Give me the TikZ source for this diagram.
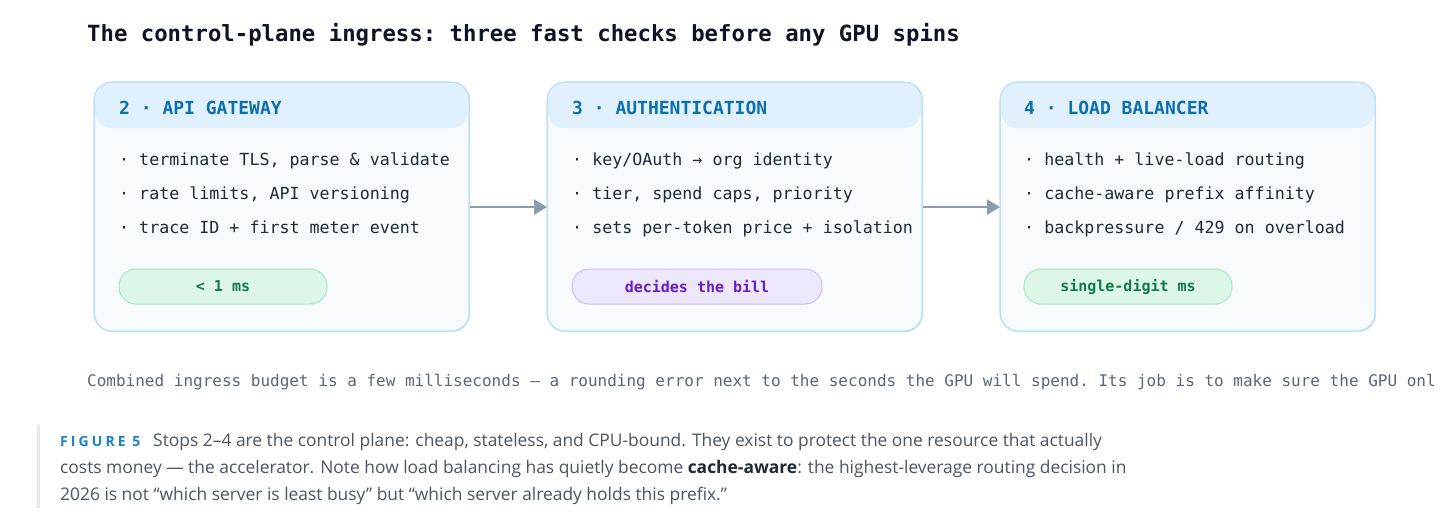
\documentclass[tikz,border=0pt]{standalone}
\usepackage{fontspec}
\setmonofont{DejaVu Sans Mono}
\setsansfont{Open Sans}
\usetikzlibrary{arrows.meta}
\definecolor{boxborder}{HTML}{BEE1F3}
\definecolor{boxfill}{HTML}{F8FBFE}
\definecolor{headfill}{HTML}{E0F0FC}
\definecolor{headtext}{HTML}{0E6FAE}
\definecolor{bodytext}{HTML}{1F2937}
\definecolor{titletext}{HTML}{0F1424}
\definecolor{arrowc}{HTML}{8C9BAE}
\definecolor{greenfill}{HTML}{DCF7E7}
\definecolor{greenborder}{HTML}{A8E4C2}
\definecolor{greentext}{HTML}{13784A}
\definecolor{purplefill}{HTML}{EDE7FC}
\definecolor{purpleborder}{HTML}{CDBDF2}
\definecolor{purpletext}{HTML}{6A1CC7}
\definecolor{notetext}{HTML}{5B6678}
\definecolor{captext}{HTML}{4B5563}
\definecolor{capbold}{HTML}{1F2937}
\definecolor{figblue}{HTML}{1C82C8}
\definecolor{barc}{HTML}{E5E7EB}
\tikzset{
  stagebox/.style={draw=boxborder, line width=1.2pt, fill=boxfill, rounded corners=18pt,
    minimum width=375pt, minimum height=249pt, inner sep=0pt},
  headband/.style={fill=headfill, rounded corners=16pt},
  headlabel/.style={anchor=base west, inner sep=0pt, font=\ttfamily\bfseries\fontsize{18}{20}\selectfont, text=headtext},
  bullet/.style={anchor=base west, inner sep=0pt, font=\ttfamily\fontsize{16.65}{20}\selectfont, text=bodytext},
  pill/.style={rounded corners=17pt, line width=1pt, minimum height=35pt, inner sep=0pt,
    font=\ttfamily\bfseries\fontsize{15}{18}\selectfont},
  greenpill/.style={pill, draw=greenborder, fill=greenfill, text=greentext, minimum width=208pt},
  purplepill/.style={pill, draw=purpleborder, fill=purplefill, text=purpletext, minimum width=250pt},
  flow/.style={draw=arrowc, line width=2.6pt, -{Triangle[length=13pt,width=15pt]}},
  captionline/.style={anchor=base west, inner sep=0pt, font=\sffamily\fontsize{17.4}{20}\selectfont, text=captext},
}
\begin{document}
\begin{tikzpicture}[x=1pt,y=-1pt]
\useasboundingbox (0,0) rectangle (1456,515);
\fill[white] (0,0) rectangle (1456,515);

% title
\node[anchor=base west, inner sep=0pt, font=\ttfamily\bfseries\fontsize{22.3}{26}\selectfont, text=titletext]
  (title) at (87,41) {The control-plane ingress: three fast checks before any GPU spins};

% boxes
\foreach \nm/\x in {gw/94, auth/547, lb/1000}{
  \node[stagebox, anchor=north west] (\nm) at (\x,82) {};
  \fill[headband] (\x+1,83) rectangle (\x+374,128);
  \draw[draw=boxborder, line width=1.2pt, rounded corners=18pt] (\x,82) rectangle (\x+375,331);
}

% box 1
\node[headlabel] (gwh) at (119,114) {2 · API GATEWAY};
\node[bullet] (gw1) at (119,165) {· terminate TLS, parse \& validate};
\node[bullet] (gw2) at (119,199) {· rate limits, API versioning};
\node[bullet] (gw3) at (119,233) {· trace ID + first meter event};
\node[greenpill] (gwp) at (223,286.5) {< 1 ms};

% box 2
\node[headlabel] (authh) at (572,114) {3 · AUTHENTICATION};
\node[bullet] (auth1) at (572,165) {· key/OAuth → org identity};
\node[bullet] (auth2) at (572,199) {· tier, spend caps, priority};
\node[bullet] (auth3) at (572,233) {· sets per-token price + isolation};
\node[purplepill] (authp) at (697,286.5) {decides the bill};

% box 3
\node[headlabel] (lbh) at (1024,114) {4 · LOAD BALANCER};
\node[bullet] (lb1) at (1024,165) {· health + live-load routing};
\node[bullet] (lb2) at (1024,199) {· cache-aware prefix affinity};
\node[bullet] (lb3) at (1024,233) {· backpressure / 429 on overload};
\node[greenpill] (lbp) at (1128,286.5) {single-digit ms};

% arrows
\draw[flow] (gw.east) -- (auth.west);
\draw[flow] (auth.east) -- (lb.west);

% note line (clipped)
\begin{scope}
\clip (0,360) rectangle (1435,400);
\node[anchor=base west, inner sep=0pt, font=\ttfamily\fontsize{16}{20}\selectfont, text=notetext]
  (note) at (87,386) {Combined ingress budget is a few milliseconds — a rounding error next to the seconds the GPU will spend. Its job is to make sure the GPU only};
\end{scope}

% caption
\fill[barc] (37,425) rectangle (40,508);
\node[anchor=base west, inner sep=0pt, font=\sffamily\bfseries\fontsize{14}{16}\selectfont\addfontfeatures{LetterSpace=22}, text=figblue]
  (fig) at (60,446) {FIGURE 5};
\node[captionline] (cap1) at (153,446) {Stops 2–4 are the control plane: cheap, stateless, and CPU-bound. They exist to protect the one resource that actually};
\node[captionline] (cap2) at (60,473) {costs money — the accelerator. Note how load balancing has quietly become \textcolor{capbold}{\bfseries cache-aware}: the highest-leverage routing decision in};
\node[captionline] (cap3) at (60,500) {2026 is not “which server is least busy” but “which server already holds this prefix.”};
\end{tikzpicture}
\end{document}
